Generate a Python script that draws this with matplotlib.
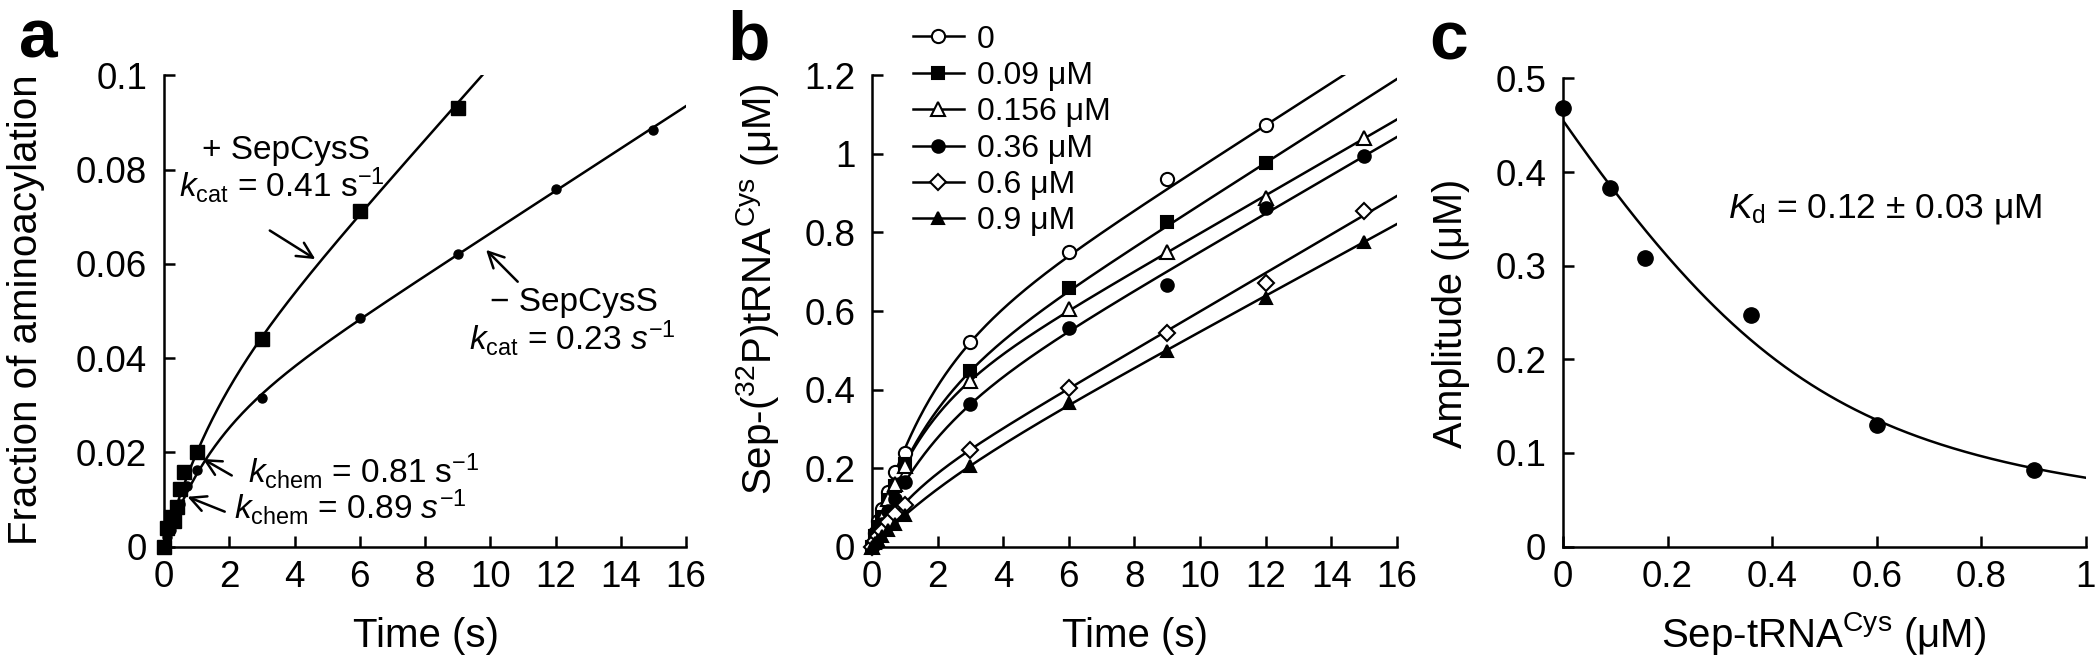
import numpy as np
import matplotlib
matplotlib.use("Agg")
import matplotlib.pyplot as plt
from matplotlib.lines import Line2D

plt.rcParams['font.family'] = ['Liberation Sans', 'DejaVu Sans']
plt.rcParams['mathtext.fontset'] = 'custom'
plt.rcParams['mathtext.rm'] = 'Liberation Sans'
plt.rcParams['mathtext.it'] = 'Liberation Sans:italic'
plt.rcParams['mathtext.bf'] = 'Liberation Sans:bold'

MU = "\u03bc"

# ---------------- Panel a data ----------------
a_plus_t = [0, 0.1, 0.2, 0.3, 0.4, 0.5, 0.6, 1.0, 3, 6, 9]
a_plus_y = [0, 0.004, 0.0062, 0.0055, 0.0085, 0.0122, 0.0158, 0.020, 0.044, 0.0712, 0.093]
a_minus_t = [0, 0.1, 0.2, 0.3, 0.5, 0.7, 1.0, 3, 6, 9, 12, 15]
a_minus_y = [0, 0.002, 0.0035, 0.005, 0.009, 0.0128, 0.0162, 0.0315, 0.0485, 0.062, 0.076, 0.0885]
# burst fit parameters (amplitude, rate, steady-state slope)
a_plus_fit = (0.024, 0.70, 0.0078)
a_minus_fit = (0.0215, 0.70, 0.0045)
a_xticks = [0, 2, 4, 6, 8, 10, 12, 14, 16]
a_yticks = [0, 0.02, 0.04, 0.06, 0.08, 0.1]
a_yticklabels = ["0", "0.02", "0.04", "0.06", "0.08", "0.1"]

# ---------------- Panel b data ----------------
b_labels = ["0", "0.09 " + MU + "M", "0.156 " + MU + "M", "0.36 " + MU + "M",
            "0.6 " + MU + "M", "0.9 " + MU + "M"]
b_t_short = [0, 0.1, 0.2, 0.3, 0.5, 0.7, 1.0, 3, 6, 9, 12]
b_t_long = [0, 0.1, 0.2, 0.3, 0.5, 0.7, 1.0, 3, 6, 9, 12, 15]
b_y0 = [0, 0.035, 0.065, 0.095, 0.14, 0.19, 0.238, 0.52, 0.751, 0.936, 1.073]
b_y009 = [0, 0.026, 0.05, 0.075, 0.118, 0.155, 0.21, 0.447, 0.658, 0.826, 0.978]
b_y0156 = [0, 0.027, 0.052, 0.074, 0.12, 0.16, 0.205, 0.423, 0.605, 0.751, 0.889, 1.04]
b_y036 = [0, 0.02, 0.038, 0.057, 0.09, 0.122, 0.165, 0.363, 0.556, 0.667, 0.862, 0.994]
b_y06 = [0, 0.014, 0.026, 0.04, 0.062, 0.083, 0.105, 0.247, 0.403, 0.544, 0.672, 0.854]
b_y09 = [0, 0.009, 0.017, 0.026, 0.042, 0.057, 0.08, 0.206, 0.365, 0.499, 0.634, 0.775]
b_fit_A = [0.429, 0.338, 0.315, 0.264, 0.109, 0.092]
b_fit_k = [0.605, 0.63, 0.71, 0.57, 0.83, 0.46]
b_fit_v = [0.0537, 0.0533, 0.0483, 0.0487, 0.049, 0.0456]
b_yticks = [0, 0.2, 0.4, 0.6, 0.8, 1.0, 1.2]
b_yticklabels = ["0", "0.2", "0.4", "0.6", "0.8", "1", "1.2"]

# ---------------- Panel c data ----------------
c_x = [0, 0.09, 0.156, 0.36, 0.6, 0.9]
c_y = [0.468, 0.383, 0.308, 0.2475, 0.13, 0.0815]
c_fit_A0 = 0.455
c_fit_E = 0.45
c_fit_Kd = 0.12
c_xticks = [0, 0.2, 0.4, 0.6, 0.8, 1.0]
c_xticklabels = ["0", "0.2", "0.4", "0.6", "0.8", "1"]
c_yticks = [0, 0.1, 0.2, 0.3, 0.4, 0.5]
c_yticklabels = ["0", "0.1", "0.2", "0.3", "0.4", "0.5"]

TICK_FS = 26.5
LABEL_FS = 29
ANN_FS = 24
LEG_FS = 23
LW = 1.8

fig = plt.figure(figsize=(21, 6.64), dpi=100)


def style(ax):
    for s in ['top', 'right']:
        ax.spines[s].set_visible(False)
    for s in ['left', 'bottom']:
        ax.spines[s].set_linewidth(1.8)
    ax.tick_params(direction='in', length=8, width=1.8, labelsize=TICK_FS)
    ax.tick_params(axis='y', pad=12)
    ax.tick_params(axis='x', pad=10)


def burst(t, A, k, v):
    t = np.asarray(t)
    return A * (1 - np.exp(-k * t)) + v * t


# ---------- Panel a ----------
axa = fig.add_axes([0.0781, 0.1768, 0.2486, 0.7096])
style(axa)
tt = np.linspace(0, 16, 400)
axa.plot(tt, burst(tt, *a_plus_fit), color='black', lw=LW)
axa.plot(tt, burst(tt, *a_minus_fit), color='black', lw=LW)
axa.plot(a_minus_t, a_minus_y, 'o', color='black', ms=6.5, clip_on=False, zorder=4)
axa.plot(a_plus_t, a_plus_y, 's', color='black', ms=9.5, clip_on=False, zorder=5)
axa.set_xlim(0, 16)
axa.set_ylim(0, 0.1)
axa.set_xticks(a_xticks)
axa.set_xticklabels([str(v) for v in a_xticks])
axa.set_yticks(a_yticks)
axa.set_yticklabels(a_yticklabels)

arrow = dict(arrowstyle='->', lw=1.8, color='black', mutation_scale=28)
axa.text(1.15, 0.0823, "+ SepCysS", fontsize=ANN_FS, ha='left', va='baseline')
axa.text(0.45, 0.0742, r"$k_{\mathrm{cat}}$ = 0.41 s$^{-1}$", fontsize=ANN_FS, ha='left', va='baseline')
axa.annotate('', xy=(4.71, 0.0607), xytext=(3.17, 0.0674), arrowprops=arrow)
axa.text(10.0, 0.0499, "\u2212 SepCysS", fontsize=ANN_FS, ha='left', va='baseline')
axa.text(9.35, 0.0418, r"$k_{\mathrm{cat}}$ = 0.23 $s^{-1}$", fontsize=ANN_FS, ha='left', va='baseline')
axa.annotate('', xy=(9.81, 0.0634), xytext=(10.9, 0.0558), arrowprops=arrow)
axa.text(2.56, 0.0135, r"$k_{\mathrm{chem}}$ = 0.81 s$^{-1}$", fontsize=ANN_FS, ha='left', va='baseline')
axa.annotate('', xy=(1.12, 0.0189), xytext=(2.15, 0.0148), arrowprops=arrow)
axa.text(2.15, 0.00585, r"$k_{\mathrm{chem}}$ = 0.89 $s^{-1}$", fontsize=ANN_FS, ha='left', va='baseline')
axa.annotate('', xy=(0.64, 0.0108), xytext=(1.94, 0.0072), arrowprops=arrow)

# ---------- Panel b ----------
axb = fig.add_axes([0.4152, 0.1768, 0.25, 0.7096])
style(axb)
b_series = [
    (b_t_short, b_y0, 'o', 'white', 9.5),
    (b_t_short, b_y009, 's', 'black', 9.0),
    (b_t_long, b_y0156, '^', 'white', 10.0),
    (b_t_long, b_y036, 'o', 'black', 9.0),
    (b_t_long, b_y06, 'D', 'white', 8.0),
    (b_t_long, b_y09, '^', 'black', 9.0),
]
handles = []
for i, (t, y, m, fc, ms) in enumerate(b_series):
    axb.plot(tt, burst(tt, b_fit_A[i], b_fit_k[i], b_fit_v[i]), color='black', lw=LW)
    axb.plot(t, y, m, mfc=fc, mec='black', mew=1.5, ms=ms, linestyle='none',
             clip_on=False, zorder=5)
    handles.append(Line2D([], [], color='black', lw=LW, marker=m, mfc=fc,
                          mec='black', mew=1.5, ms=ms))
axb.set_xlim(0, 16)
axb.set_ylim(0, 1.2)
axb.set_xticks(a_xticks)
axb.set_xticklabels([str(v) for v in a_xticks])
axb.set_yticks(b_yticks)
axb.set_yticklabels(b_yticklabels)
leg = axb.legend(handles, b_labels, loc='upper left', bbox_to_anchor=(0.078, 1.108),
                 frameon=False, fontsize=LEG_FS, handlelength=1.6, handletextpad=0.41,
                 labelspacing=0.2, borderpad=0, borderaxespad=0, numpoints=1)

# ---------- Panel c ----------
axc = fig.add_axes([0.7443, 0.1768, 0.2490, 0.7051])
style(axc)
xx = np.linspace(0, 1, 300)
bsum = c_fit_E + xx + c_fit_Kd
es = (bsum - np.sqrt(bsum ** 2 - 4 * c_fit_E * xx)) / 2
axc.plot(xx, c_fit_A0 * (1 - es / c_fit_E), color='black', lw=LW)
axc.plot(c_x, c_y, 'o', color='black', ms=11, clip_on=False, zorder=5)
axc.set_xlim(0, 1)
axc.set_ylim(0, 0.5)
axc.set_xticks(c_xticks)
axc.set_xticklabels(c_xticklabels)
axc.set_yticks(c_yticks)
axc.set_yticklabels(c_yticklabels)
axc.text(0.316, 0.351, r"$K_{\mathrm{d}}$ = 0.12 $\pm$ 0.03 " + MU + "M",
         fontsize=25.5, ha='left', va='baseline')

# ---------- Axis labels ----------
fig.text(0.0125, 0.533, "Fraction of aminoacylation", rotation=90, ha='center', va='center', fontsize=LABEL_FS)
fig.text(0.3605, 0.565, r"Sep-($^{32}$P)tRNA$^{\mathrm{Cys}}$ (" + MU + "M)",
         rotation=90, ha='center', va='center', fontsize=LABEL_FS)
fig.text(0.691, 0.528, "Amplitude (" + MU + "M)", rotation=90, ha='center', va='center', fontsize=28.5)
fig.text(426 / 2100, 0.0256, "Time (s)", ha='center', va='baseline', fontsize=LABEL_FS)
fig.text(1135 / 2100, 0.0256, "Time (s)", ha='center', va='baseline', fontsize=LABEL_FS)
fig.text(1824 / 2100, 0.0256, r"Sep-tRNA$^{\mathrm{Cys}}$ (" + MU + "M)",
         ha='center', va='baseline', fontsize=LABEL_FS)

# ---------- Panel letters ----------
fig.text(19 / 2100, 1 - 57 / 664, "a", fontsize=50, fontweight='bold', ha='left', va='baseline')
fig.text(727 / 2100, 1 - 59 / 664, "b", fontsize=50, fontweight='bold', ha='left', va='baseline')
fig.text(1429 / 2100, 1 - 59 / 664, "c", fontsize=50, fontweight='bold', ha='left', va='baseline')

fig.savefig("out.png", dpi=100)
